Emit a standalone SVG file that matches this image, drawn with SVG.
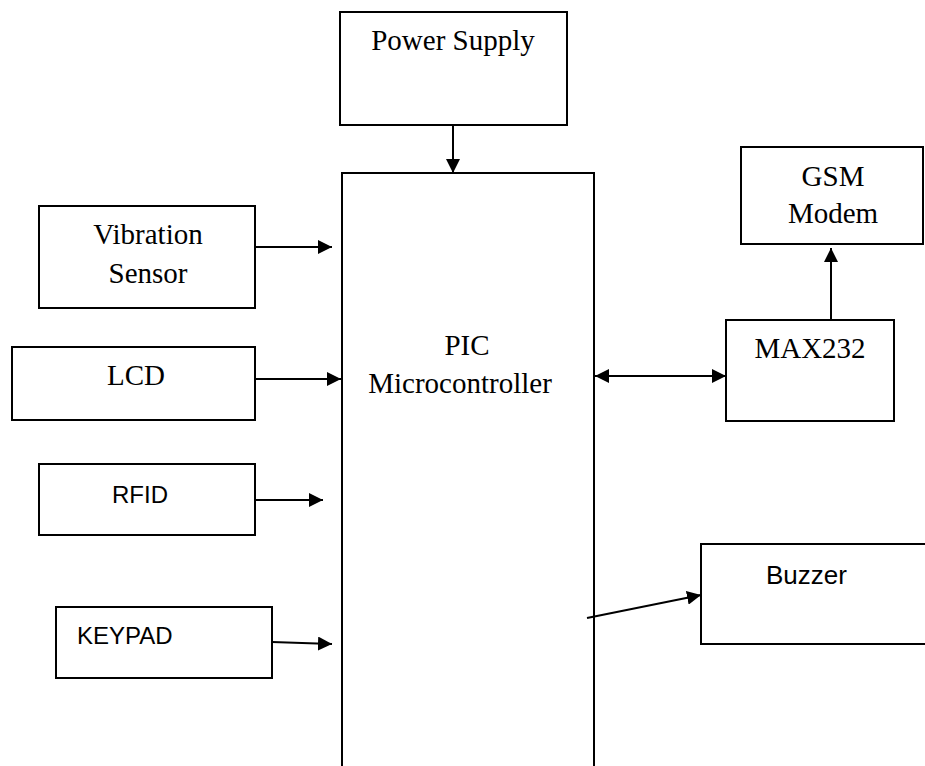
<svg xmlns="http://www.w3.org/2000/svg" width="925" height="766" viewBox="0 0 925 766">
<style>
.box{fill:#fff;stroke:#000;stroke-width:2}
.serif{font-family:"Liberation Serif","Times New Roman",serif;font-size:29px;fill:#000}
.sans{font-family:"Liberation Sans",Arial,sans-serif;font-size:24px;fill:#000}
.line{stroke:#000;stroke-width:2;fill:none}
</style>
<defs>
<marker id="ah" markerWidth="14" markerHeight="14" refX="14" refY="7" orient="auto" markerUnits="userSpaceOnUse">
<path d="M0,0 L14,7 L0,14 Z" fill="#000"/>
</marker>
<marker id="ahs" markerWidth="14" markerHeight="14" refX="0" refY="7" orient="auto" markerUnits="userSpaceOnUse">
<path d="M14,0 L0,7 L14,14 Z" fill="#000"/>
</marker>
</defs>
<rect width="925" height="766" fill="#fff"/>
<g id="power">
<rect class="box" x="340" y="12" width="227" height="113"/>
<text class="serif" x="453" y="50" text-anchor="middle">Power Supply</text>
</g>
<g id="pic">
<path class="line" d="M342,767 V173 H594 V767"/>
<text class="serif" x="467" y="355" text-anchor="middle">PIC</text>
<text class="serif" x="460" y="393" text-anchor="middle">Microcontroller</text>
</g>
<g id="vibration">
<rect class="box" x="39" y="206" width="216" height="102"/>
<text class="serif" x="148" y="244" text-anchor="middle">Vibration</text>
<text class="serif" x="148" y="283" text-anchor="middle">Sensor</text>
</g>
<g id="lcd">
<rect class="box" x="12" y="347" width="243" height="73"/>
<text class="serif" x="136" y="385" text-anchor="middle">LCD</text>
</g>
<g id="rfid">
<rect class="box" x="39" y="464" width="216" height="71"/>
<text class="sans" x="112" y="503">RFID</text>
</g>
<g id="keypad">
<rect class="box" x="56" y="607" width="216" height="71"/>
<text class="sans" x="77" y="644">KEYPAD</text>
</g>
<g id="gsm">
<rect class="box" x="741" y="147" width="182" height="97"/>
<text class="serif" x="833" y="186" text-anchor="middle">GSM</text>
<text class="serif" x="833" y="223" text-anchor="middle">Modem</text>
</g>
<g id="max232">
<rect class="box" x="726" y="320" width="168" height="101"/>
<text class="serif" x="810" y="358" text-anchor="middle">MAX232</text>
</g>
<g id="buzzer">
<path class="line" d="M927,544 H701 V644 H927"/>
<text class="sans" x="766" y="584" style="font-size:26px">Buzzer</text>
</g>
<g id="connectors">
<line class="line" x1="453" y1="125" x2="453" y2="173" marker-end="url(#ah)"/>
<line class="line" x1="255" y1="247" x2="332" y2="247" marker-end="url(#ah)"/>
<line class="line" x1="255" y1="379" x2="341" y2="379" marker-end="url(#ah)"/>
<line class="line" x1="255" y1="500" x2="323" y2="500" marker-end="url(#ah)"/>
<line class="line" x1="272" y1="642" x2="332" y2="644" marker-end="url(#ah)"/>
<line class="line" x1="595" y1="376" x2="726" y2="376" marker-start="url(#ahs)" marker-end="url(#ah)"/>
<line class="line" x1="831" y1="320" x2="831" y2="248" marker-end="url(#ah)"/>
<line class="line" x1="587" y1="618" x2="701" y2="595" marker-end="url(#ah)"/>
</g>
</svg>
